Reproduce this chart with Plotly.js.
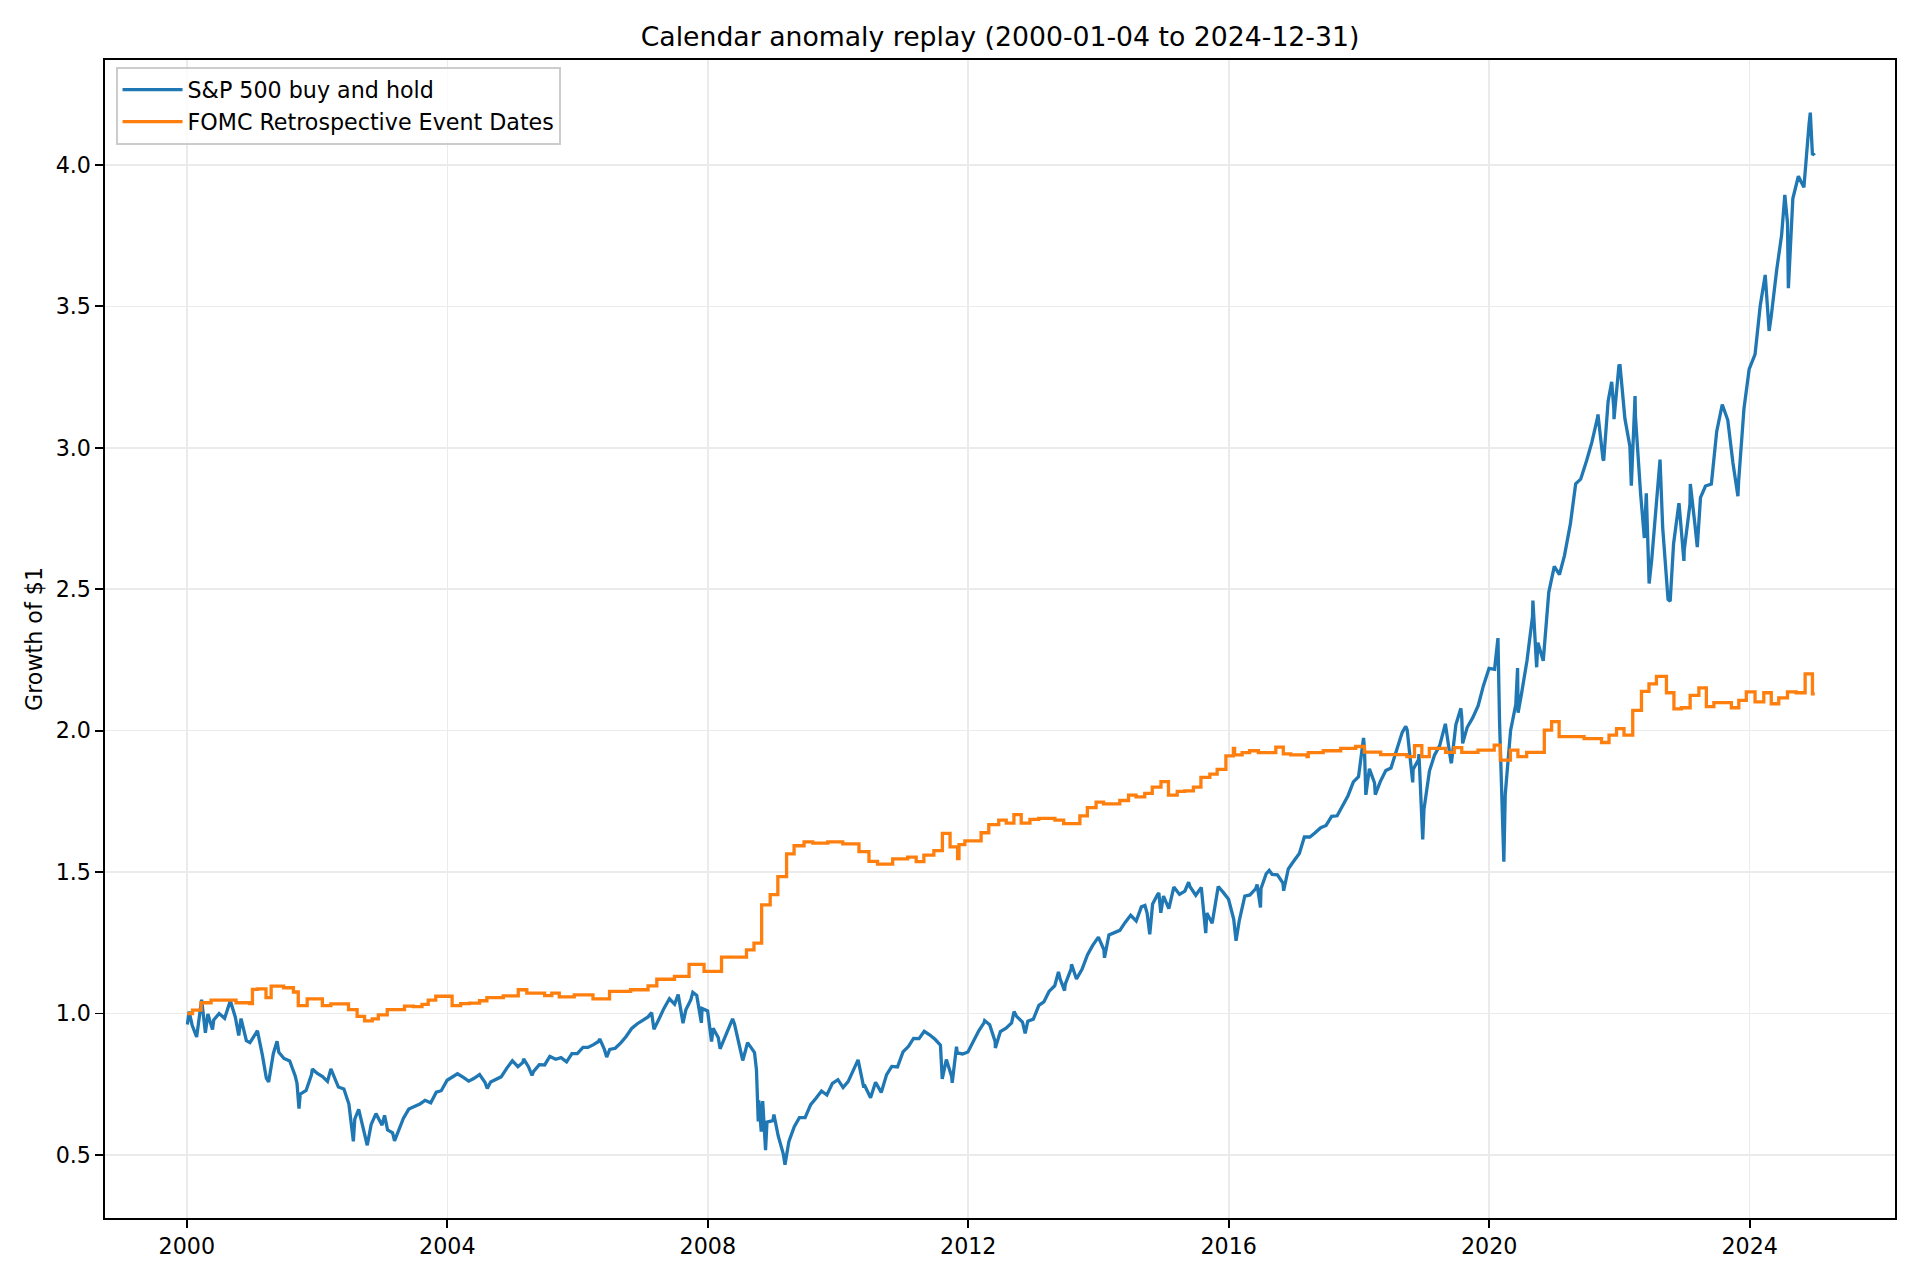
<!DOCTYPE html>
<html>
<head>
<meta charset="utf-8">
<script src="https://cdn.plot.ly/plotly-3.0.1.min.js"></script>
<style>
  html, body { margin: 0; padding: 0; background: #ffffff; }
  #replay_chart { width: 1920px; height: 1280px; }
</style>
</head>
<body>
<div id="replay_chart"></div>
<script>
// S&P 500 buy and hold, growth of $1
const sp_dates = [
  '2000-01-04', '2000-01-14', '2000-01-31', '2000-02-25', '2000-03-24', '2000-04-14', '2000-04-28', '2000-05-24',
  '2000-05-31', '2000-06-30', '2000-07-31', '2000-09-01', '2000-09-29', '2000-10-18', '2000-10-31', '2000-11-30',
  '2000-12-20', '2000-12-29',
  '2001-01-31', '2001-02-28', '2001-03-22', '2001-04-04', '2001-04-30', '2001-05-21', '2001-05-31', '2001-06-29',
  '2001-07-31', '2001-08-31', '2001-09-10', '2001-09-21', '2001-09-28', '2001-10-31', '2001-11-30', '2001-12-05',
  '2001-12-31',
  '2002-01-31', '2002-02-28', '2002-03-19', '2002-04-30', '2002-05-31', '2002-06-28', '2002-07-23', '2002-07-31',
  '2002-08-22', '2002-09-30', '2002-10-09', '2002-10-31', '2002-11-27', '2002-12-31',
  '2003-01-14', '2003-01-31', '2003-02-28', '2003-03-11', '2003-03-31', '2003-04-30', '2003-05-30', '2003-06-30',
  '2003-07-31', '2003-08-29', '2003-09-30', '2003-10-31', '2003-11-28', '2003-12-31',
  '2004-01-30', '2004-02-27', '2004-03-31', '2004-04-30', '2004-05-28', '2004-06-30', '2004-07-30', '2004-08-12',
  '2004-08-31', '2004-09-30', '2004-10-29', '2004-11-30', '2004-12-31',
  '2005-01-31', '2005-02-28', '2005-03-04', '2005-03-31', '2005-04-20', '2005-04-29', '2005-05-31', '2005-06-30',
  '2005-07-29', '2005-08-31', '2005-09-30', '2005-10-31', '2005-11-30', '2005-12-30',
  '2006-01-31', '2006-02-28', '2006-03-31', '2006-04-28', '2006-05-05', '2006-05-31', '2006-06-13', '2006-06-30',
  '2006-07-31', '2006-08-31', '2006-09-29', '2006-10-31', '2006-11-30', '2006-12-29',
  '2007-01-31', '2007-02-20', '2007-03-05', '2007-03-30', '2007-04-30', '2007-05-31', '2007-06-29', '2007-07-19',
  '2007-08-15', '2007-08-31', '2007-09-28', '2007-10-09', '2007-10-31', '2007-11-26', '2007-11-30', '2007-12-31',
  '2008-01-22', '2008-01-31', '2008-02-29', '2008-03-10', '2008-03-31', '2008-04-30', '2008-05-19', '2008-05-30',
  '2008-06-30', '2008-07-15', '2008-07-31', '2008-08-11', '2008-08-29', '2008-09-19', '2008-09-30', '2008-10-10',
  '2008-10-13', '2008-10-27', '2008-10-31', '2008-11-04', '2008-11-20', '2008-11-28', '2008-12-31',
  '2009-01-06', '2009-01-30', '2009-02-27', '2009-03-09', '2009-03-31', '2009-04-30', '2009-05-29', '2009-06-30',
  '2009-07-31', '2009-08-31', '2009-09-30', '2009-10-30', '2009-11-30', '2009-12-31',
  '2010-01-29', '2010-02-26', '2010-03-31', '2010-04-23', '2010-04-30', '2010-05-25', '2010-05-28', '2010-06-30',
  '2010-07-02', '2010-07-30', '2010-08-31', '2010-09-30', '2010-10-29', '2010-11-30', '2010-12-31',
  '2011-01-31', '2011-02-28', '2011-03-31', '2011-04-29', '2011-05-31', '2011-06-30', '2011-07-29', '2011-08-08',
  '2011-08-31', '2011-09-30', '2011-10-03', '2011-10-27', '2011-10-31', '2011-11-30', '2011-12-30',
  '2012-01-31', '2012-02-29', '2012-03-30', '2012-04-02', '2012-04-30', '2012-05-31', '2012-06-01', '2012-06-29',
  '2012-07-31', '2012-08-31', '2012-09-14', '2012-09-28', '2012-10-31', '2012-11-15', '2012-11-30', '2012-12-31',
  '2013-01-31', '2013-02-28', '2013-03-29', '2013-04-30', '2013-05-21', '2013-05-31', '2013-06-24', '2013-06-28',
  '2013-07-31', '2013-08-02', '2013-08-30', '2013-09-30', '2013-10-31', '2013-11-29', '2013-12-31',
  '2014-01-31', '2014-02-03', '2014-02-28', '2014-03-31', '2014-04-30', '2014-05-30', '2014-06-30', '2014-07-31',
  '2014-08-29', '2014-09-18', '2014-09-30', '2014-10-15', '2014-10-31', '2014-11-28', '2014-12-05', '2014-12-16',
  '2014-12-31',
  '2015-01-30', '2015-02-27', '2015-03-31', '2015-04-30', '2015-05-21', '2015-05-29', '2015-06-30', '2015-07-31',
  '2015-08-25', '2015-08-31', '2015-09-30', '2015-10-30', '2015-11-03', '2015-11-30', '2015-12-31',
  '2016-01-29', '2016-02-11', '2016-02-29', '2016-03-31', '2016-04-29', '2016-05-31', '2016-06-08', '2016-06-27',
  '2016-06-30', '2016-07-29', '2016-08-15', '2016-08-31', '2016-09-30', '2016-10-31', '2016-11-04', '2016-11-30',
  '2016-12-30',
  '2017-01-31', '2017-02-28', '2017-03-31', '2017-04-28', '2017-05-31', '2017-06-30', '2017-07-31', '2017-08-31',
  '2017-09-29', '2017-10-31', '2017-11-30', '2017-12-29',
  '2018-01-26', '2018-01-31', '2018-02-08', '2018-02-28', '2018-03-29', '2018-04-02', '2018-04-30', '2018-05-31',
  '2018-06-29', '2018-07-31', '2018-08-31', '2018-09-20', '2018-09-28', '2018-10-29', '2018-10-31', '2018-11-30',
  '2018-12-03', '2018-12-24', '2018-12-31',
  '2019-01-31', '2019-02-28', '2019-03-29', '2019-04-30', '2019-05-31', '2019-06-03', '2019-06-28', '2019-07-26',
  '2019-07-31', '2019-08-05', '2019-08-30', '2019-09-30', '2019-10-31', '2019-11-29', '2019-12-31',
  '2020-01-31', '2020-02-19', '2020-02-28', '2020-03-23', '2020-03-31', '2020-04-30', '2020-05-29', '2020-06-08',
  '2020-06-11', '2020-06-30', '2020-07-31', '2020-08-31', '2020-09-02', '2020-09-23', '2020-09-30', '2020-10-30',
  '2020-11-30', '2020-12-31',
  '2021-01-29', '2021-02-26', '2021-03-31', '2021-04-30', '2021-05-28', '2021-06-30', '2021-07-30', '2021-08-31',
  '2021-09-02', '2021-09-30', '2021-10-04', '2021-10-29', '2021-11-18', '2021-11-30', '2021-12-01', '2021-12-29',
  '2021-12-31',
  '2022-01-03', '2022-01-31', '2022-02-28', '2022-03-08', '2022-03-29', '2022-03-31', '2022-04-29', '2022-05-20',
  '2022-05-31', '2022-06-16', '2022-06-30', '2022-07-29', '2022-08-16', '2022-08-31', '2022-09-30', '2022-10-12',
  '2022-10-31', '2022-11-30', '2022-12-01', '2022-12-28', '2022-12-30',
  '2023-01-31', '2023-02-02', '2023-02-28', '2023-03-13', '2023-03-31', '2023-04-28', '2023-05-31', '2023-06-30',
  '2023-07-31', '2023-08-31', '2023-09-29', '2023-10-27', '2023-10-31', '2023-11-30', '2023-12-29',
  '2024-01-31', '2024-02-29', '2024-03-28', '2024-04-19', '2024-04-30', '2024-05-31', '2024-06-28', '2024-07-16',
  '2024-07-31', '2024-08-05', '2024-08-30', '2024-09-30', '2024-10-31', '2024-11-29', '2024-12-06', '2024-12-18',
  '2024-12-31',
];
const sp_growth = [
  0.961, 1.007, 0.958, 0.917, 1.049, 0.932, 0.998, 0.943,
  0.977, 1.000, 0.983, 1.045, 0.987, 0.922, 0.982, 0.904,
  0.897, 0.907,
  0.939, 0.852, 0.771, 0.758, 0.858, 0.902, 0.863, 0.841,
  0.832, 0.779, 0.753, 0.664, 0.715, 0.728, 0.783, 0.804,
  0.789,
  0.777, 0.760, 0.804, 0.740, 0.733, 0.680, 0.548, 0.627,
  0.661, 0.560, 0.534, 0.608, 0.646, 0.605,
  0.640, 0.588, 0.578, 0.550, 0.583, 0.630, 0.662, 0.670,
  0.680, 0.693, 0.684, 0.722, 0.727, 0.764,
  0.777, 0.787, 0.774, 0.761, 0.770, 0.784, 0.757, 0.735,
  0.758, 0.766, 0.776, 0.807, 0.833,
  0.812, 0.827, 0.840, 0.812, 0.781, 0.795, 0.819, 0.818,
  0.848, 0.838, 0.844, 0.829, 0.858, 0.858,
  0.880, 0.880, 0.890, 0.901, 0.910, 0.873, 0.846, 0.873,
  0.877, 0.896, 0.918, 0.947, 0.963, 0.975,
  0.988, 1.003, 0.944, 0.976, 1.018, 1.052, 1.033, 1.067,
  0.966, 1.013, 1.049, 1.075, 1.064, 0.967, 1.018, 1.009,
  0.901, 0.948, 0.914, 0.875, 0.909, 0.952, 0.981, 0.962,
  0.880, 0.834, 0.870, 0.897, 0.881, 0.862, 0.801, 0.618,
  0.693, 0.582, 0.666, 0.690, 0.517, 0.616, 0.621,
  0.643, 0.567, 0.505, 0.465, 0.548, 0.600, 0.632, 0.632,
  0.678, 0.701, 0.726, 0.712, 0.753, 0.766,
  0.738, 0.759, 0.803, 0.836, 0.815, 0.738, 0.748, 0.708,
  0.702, 0.757, 0.721, 0.784, 0.813, 0.811, 0.864,
  0.884, 0.912, 0.911, 0.937, 0.924, 0.908, 0.888, 0.769,
  0.837, 0.777, 0.755, 0.883, 0.861, 0.857, 0.864,
  0.902, 0.939, 0.968, 0.975, 0.960, 0.900, 0.878, 0.936,
  0.948, 0.967, 1.007, 0.990, 0.970, 0.930, 0.973, 0.980,
  1.029, 1.041, 1.078, 1.098, 1.147, 1.121, 1.081, 1.104,
  1.158, 1.174, 1.122, 1.156, 1.208, 1.241, 1.270,
  1.225, 1.197, 1.278, 1.286, 1.294, 1.322, 1.347, 1.327,
  1.377, 1.382, 1.355, 1.280, 1.387, 1.421, 1.426, 1.356,
  1.415,
  1.371, 1.447, 1.421, 1.433, 1.464, 1.448, 1.418, 1.446,
  1.284, 1.355, 1.319, 1.429, 1.449, 1.429, 1.404,
  1.333, 1.257, 1.328, 1.415, 1.419, 1.441, 1.456, 1.375,
  1.442, 1.494, 1.506, 1.492, 1.490, 1.461, 1.434, 1.511,
  1.538,
  1.566, 1.624, 1.624, 1.638, 1.657, 1.665, 1.697, 1.699,
  1.731, 1.770, 1.819, 1.837,
  1.974, 1.940, 1.773, 1.865, 1.815, 1.774, 1.820, 1.859,
  1.868, 1.935, 1.994, 2.015, 2.002, 1.817, 1.863, 1.897,
  1.917, 1.615, 1.722,
  1.858, 1.913, 1.947, 2.024, 1.891, 1.885, 2.021, 2.079,
  2.048, 1.955, 2.011, 2.045, 2.088, 2.158, 2.220,
  2.217, 2.327, 2.030, 1.537, 1.776, 2.001, 2.092, 2.221,
  2.063, 2.130, 2.248, 2.405, 2.460, 2.224, 2.311, 2.247,
  2.489, 2.581,
  2.552, 2.619, 2.730, 2.873, 2.889, 2.954, 3.020, 3.108,
  3.118, 2.960, 2.955, 3.165, 3.233, 3.138, 3.101, 3.294,
  3.275,
  3.296, 3.103, 3.006, 2.866, 3.183, 3.113, 2.839, 2.681,
  2.839, 2.520, 2.601, 2.838, 2.958, 2.718, 2.464, 2.458,
  2.661, 2.804, 2.801, 2.600, 2.639,
  2.801, 2.872, 2.728, 2.649, 2.824, 2.865, 2.872, 3.058,
  3.153, 3.098, 2.946, 2.829, 2.882, 3.139, 3.278,
  3.330, 3.502, 3.611, 3.413, 3.461, 3.627, 3.752, 3.894,
  3.795, 3.564, 3.881, 3.960, 3.921, 4.145, 4.185, 4.035,
  4.042,
];

// FOMC retrospective event dates strategy, value after each event (step line)
const fomc_dates = [
  '2000-01-04', '2000-02-02', '2000-03-21', '2000-05-16', '2000-10-03', '2000-12-19',
  '2001-01-03', '2001-01-31', '2001-03-20', '2001-04-18', '2001-06-27', '2001-08-21', '2001-09-17', '2001-11-06',
  '2002-01-30', '2002-03-19', '2002-06-26', '2002-08-13', '2002-09-24', '2002-11-06', '2002-12-10',
  '2003-01-29', '2003-05-06', '2003-06-25', '2003-08-12', '2003-09-16', '2003-10-28',
  '2004-01-28', '2004-03-16', '2004-05-04', '2004-06-30', '2004-08-10', '2004-11-10',
  '2005-02-02', '2005-03-22', '2005-06-30', '2005-08-09', '2005-09-20', '2005-12-13',
  '2006-03-28', '2006-06-29', '2006-10-25',
  '2007-01-31', '2007-03-21', '2007-06-28', '2007-09-18', '2007-12-11',
  '2008-03-18', '2008-08-05', '2008-09-16', '2008-10-29', '2008-12-16',
  '2009-01-28', '2009-03-18', '2009-04-29', '2009-06-24', '2009-08-12', '2009-11-04',
  '2010-01-27', '2010-04-28', '2010-06-23', '2010-08-10', '2010-11-03',
  '2011-01-26', '2011-03-15', '2011-04-27', '2011-06-22', '2011-08-09', '2011-09-21', '2011-11-02', '2011-11-10',
  '2011-12-13',
  '2012-03-13', '2012-04-25', '2012-06-20', '2012-08-01', '2012-09-13', '2012-10-24', '2012-12-12',
  '2013-01-30', '2013-05-01', '2013-06-19', '2013-09-18', '2013-10-30', '2013-12-18',
  '2014-01-29', '2014-04-30', '2014-06-18', '2014-07-30', '2014-09-17', '2014-10-29', '2014-12-17',
  '2015-01-28', '2015-03-18', '2015-04-29', '2015-06-17', '2015-07-29', '2015-09-17', '2015-10-28', '2015-12-16',
  '2016-01-27', '2016-02-03', '2016-03-16', '2016-04-27', '2016-06-15', '2016-09-21', '2016-11-02', '2016-12-14',
  '2017-03-15', '2017-03-22', '2017-06-14', '2017-09-20', '2017-12-13',
  '2018-01-31', '2018-05-02', '2018-09-26', '2018-11-08', '2018-12-19',
  '2019-01-30', '2019-05-01', '2019-06-19', '2019-07-31', '2019-10-30',
  '2020-01-29', '2020-03-03', '2020-04-29', '2020-06-10', '2020-07-29', '2020-11-05', '2020-12-16',
  '2021-01-27', '2021-06-16', '2021-09-22', '2021-11-03', '2021-12-15',
  '2022-01-26', '2022-03-16', '2022-05-04', '2022-06-15', '2022-07-27', '2022-09-21', '2022-11-02', '2022-12-14',
  '2023-02-01', '2023-03-22', '2023-05-03', '2023-06-14', '2023-09-20', '2023-11-01', '2023-12-13',
  '2024-01-31', '2024-03-20', '2024-05-01', '2024-06-12', '2024-07-31', '2024-09-18', '2024-11-07', '2024-12-18',
  '2024-12-31',
];
const fomc_growth = [
  1.000, 1.012, 1.038, 1.047, 1.038, 1.035,
  1.085, 1.087, 1.056, 1.097, 1.091, 1.076, 1.028, 1.052,
  1.028, 1.034, 1.014, 0.990, 0.974, 0.981, 0.995,
  1.014, 1.026, 1.024, 1.032, 1.047, 1.061,
  1.028, 1.035, 1.037, 1.045, 1.056, 1.062,
  1.084, 1.072, 1.063, 1.072, 1.059, 1.066,
  1.052, 1.078, 1.084,
  1.098, 1.121, 1.131, 1.174, 1.149,
  1.199, 1.225, 1.249, 1.384, 1.420,
  1.484, 1.564, 1.593, 1.607, 1.602, 1.607,
  1.600, 1.572, 1.538, 1.528, 1.547,
  1.553, 1.537, 1.560, 1.576, 1.637, 1.589, 1.548, 1.597,
  1.610,
  1.639, 1.668, 1.684, 1.673, 1.703, 1.673, 1.686,
  1.690, 1.684, 1.671, 1.699, 1.728, 1.747,
  1.741, 1.753, 1.772, 1.766, 1.778, 1.800, 1.820,
  1.772, 1.785, 1.787, 1.800, 1.835, 1.846, 1.863, 1.911,
  1.937, 1.914, 1.922, 1.929, 1.922, 1.942, 1.918, 1.914,
  1.908, 1.922, 1.929, 1.937, 1.944,
  1.924, 1.915, 1.908, 1.947, 1.908,
  1.937, 1.923, 1.940, 1.923, 1.931,
  1.949, 1.896, 1.931, 1.908, 1.923, 2.002, 2.032,
  1.979, 1.972, 1.958, 1.984, 2.007,
  1.984, 2.072, 2.139, 2.165, 2.192, 2.134, 2.077, 2.081,
  2.125, 2.151, 2.085, 2.099, 2.081, 2.107, 2.137,
  2.102, 2.134, 2.095, 2.116, 2.137, 2.134, 2.201, 2.130,
  2.130,
];

const x_tick_values = ['2000-01-01', '2004-01-01', '2008-01-01', '2012-01-01', '2016-01-01', '2020-01-01', '2024-01-01'];
const x_tick_labels = ['2000', '2004', '2008', '2012', '2016', '2020', '2024'];
const y_tick_values = [0.5, 1.0, 1.5, 2.0, 2.5, 3.0, 3.5, 4.0];
const y_tick_labels = ['0.5', '1.0', '1.5', '2.0', '2.5', '3.0', '3.5', '4.0'];

const base_font = 'DejaVu Sans, Verdana, sans-serif';

const replay_axis_common = {
  showline: true,
  mirror: true,
  linecolor: '#000000',
  linewidth: 1.8,
  ticks: 'outside',
  ticklen: 7.8,
  tickwidth: 1.8,
  tickcolor: '#000000',
  showgrid: true,
  gridcolor: '#ebebeb',
  gridwidth: 1.6,
  zeroline: false,
  tickfont: { family: base_font, size: 22.2, color: '#000000' },
};

const replay_layout = {
  width: 1920,
  height: 1280,
  paper_bgcolor: '#ffffff',
  plot_bgcolor: '#ffffff',
  margin: { l: 105, r: 25, t: 60, b: 62, pad: 0 },
  title: {
    text: 'Calendar anomaly replay (2000-01-04 to 2024-12-31)',
    font: { family: base_font, size: 26.7, color: '#000000' },
    x: 0.5,
    xref: 'paper',
    y: 1 - 37 / 1280,
    yref: 'container',
    yanchor: 'middle',
  },
  xaxis: Object.assign({}, replay_axis_common, {
    type: 'date',
    range: ['1998-09-29', '2026-03-26'],
    tickmode: 'array',
    tickvals: x_tick_values,
    ticktext: x_tick_labels,
  }),
  yaxis: Object.assign({}, replay_axis_common, {
    range: [0.277, 4.371],
    tickmode: 'array',
    tickvals: y_tick_values,
    ticktext: y_tick_labels,
  }),
  legend: {
    x: 0.006,
    y: 0.994,
    xanchor: 'left',
    yanchor: 'top',
    bgcolor: 'rgba(255,255,255,0.8)',
    bordercolor: '#cccccc',
    borderwidth: 1.8,
    itemwidth: 60,
    font: { family: base_font, size: 22.2, color: '#000000' },
    tracegroupgap: 0,
  },
  annotations: [
    {
      text: 'Growth of $1',
      xref: 'paper',
      yref: 'paper',
      x: (34 - 105) / 1790,
      y: 0.5,
      xanchor: 'center',
      yanchor: 'middle',
      textangle: -90,
      showarrow: false,
      font: { family: base_font, size: 22.2, color: '#000000' },
    },
  ],
  showlegend: true,
};

const replay_data = [
  {
    x: sp_dates,
    y: sp_growth,
    name: 'S&P 500 buy and hold',
    type: 'scatter',
    mode: 'lines',
    line: { color: '#1f77b4', width: 3.3 },
  },
  {
    x: fomc_dates,
    y: fomc_growth,
    name: 'FOMC Retrospective Event Dates',
    type: 'scatter',
    mode: 'lines',
    line: { color: '#ff7f0e', width: 3.3, shape: 'hv' },
  },
];

Plotly.newPlot('replay_chart', replay_data, replay_layout, { staticPlot: true, displayModeBar: false });
</script>
</body>
</html>
